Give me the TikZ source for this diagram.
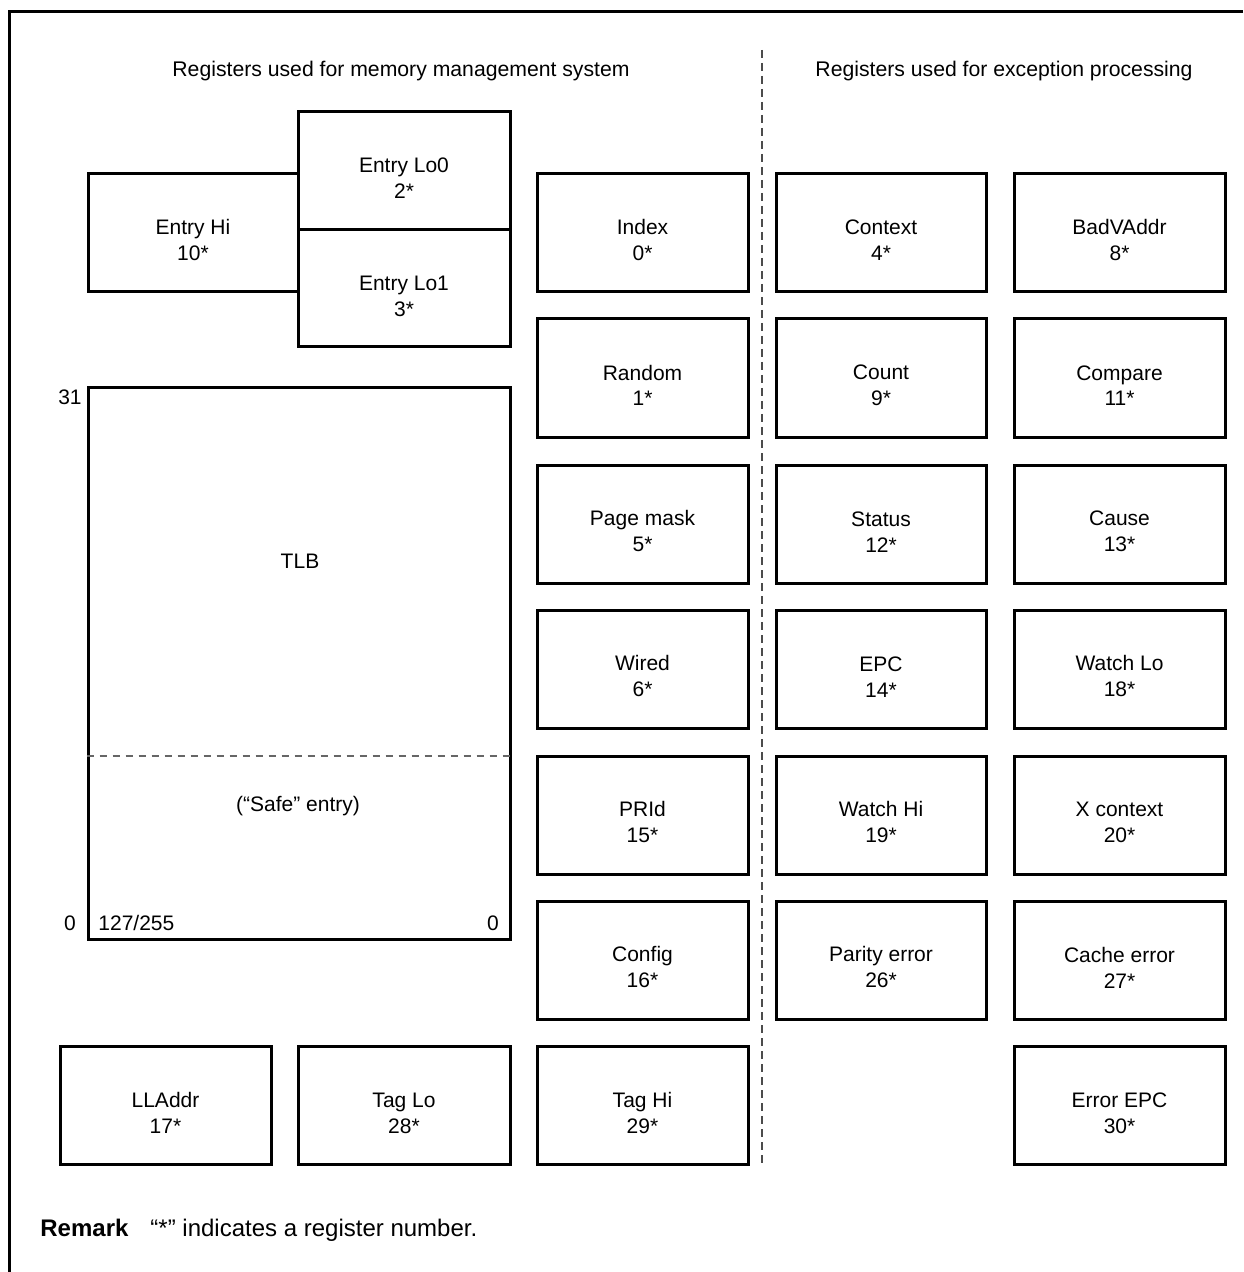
\documentclass[tikz,border=0pt]{standalone}
\usepackage{fontspec}
\setmainfont{Liberation Sans}
\newcommand\regstrut{\rule{0pt}{15pt}}
\begin{document}
\begin{tikzpicture}[x=0.5pt,y=-0.5pt,
  reg/.style={draw, line width=1.5pt, minimum width=105.5pt, minimum height=59pt, inner sep=0pt, align=center, font=\fontsize{10.5}{13}\selectfont},
  txt/.style={inner sep=0pt, font=\fontsize{10.5}{13}\selectfont},
  thindash/.style={draw=black!60, line width=0.6pt, dash pattern=on 3.5pt off 3pt}]
\useasboundingbox (0,0) rectangle (1243,1272);
% frame
\draw[line width=1.5pt] (1243,12) -- (9,12) -- (9,1272);
% headers
\node[txt, font=\fontsize{10.6}{13}\selectfont] (hmem) at (401,71) {Registers used for memory management system};
\node[txt, font=\fontsize{10.6}{13}\selectfont] (hexc) at (1004,71) {Registers used for exception processing};
% divider
\coordinate (dtop) at (762,50);
\coordinate (dbot) at (762,1165);
\draw[black!70, line width=0.6pt, dash pattern=on 4pt off 2.5pt] (dtop) -- (dbot);
% entry registers
\node[reg, minimum width=105pt] (ehi) at (193,233) {\regstrut Entry Hi\\10*};
\node[reg, minimum width=106pt] (elo0) at (404,171) {\regstrut Entry Lo0\\2*};
\node[reg, minimum width=106pt, minimum height=58.5pt] (elo1) at (404,288.5) {\regstrut Entry Lo1\\3*};
% TLB
\node[draw, line width=1.5pt, minimum width=211pt, minimum height=275.5pt, inner sep=0pt] (tlb) at (299,663.5) {};
\draw[thindash] (tlb.west |- 0,756) -- (tlb.east |- 0,756);
\node[txt] (tlbl) at (300,561) {TLB};
\node[txt] (safe) at (298,806) {(“Safe” entry)};
\node[txt] (n31) at (70,397) {31};
\node[txt] (n0l) at (70,923) {0};
\node[txt, anchor=west] (n127) at (98,923) {127/255};
\node[txt] (n0r) at (493,923) {0};
% column 1
\node[reg] (index) at (642.5,233) {\regstrut Index\\0*};
\node[reg] (random) at (642.5,378) {\regstrut Random\\1*};
\node[reg] (pmask) at (642.5,524) {\regstrut Page mask\\5*};
\node[reg] (wired) at (642.5,669) {\regstrut Wired\\6*};
\node[reg] (prid) at (642.5,815) {\regstrut PRId\\15*};
\node[reg] (config) at (642.5,960) {\regstrut Config\\16*};
\node[reg] (taghi) at (642.5,1105.5) {\regstrut Tag Hi\\29*};
% bottom row left
\node[reg] (lladdr) at (165.5,1105.5) {\regstrut LLAddr\\17*};
\node[reg, minimum width=106pt] (taglo) at (404,1105.5) {\regstrut Tag Lo\\28*};
% column 2
\node[reg, minimum width=105pt] (context) at (881,233) {\regstrut Context\\4*};
\node[reg, minimum width=105pt] (count) at (881,378) {\regstrut Count\\9*};
\node[reg, minimum width=105pt] (status) at (881,524) {\regstrut Status\\12*};
\node[reg, minimum width=105pt] (epc) at (881,669) {\regstrut EPC\\14*};
\node[reg, minimum width=105pt] (watchhi) at (881,815) {\regstrut Watch Hi\\19*};
\node[reg, minimum width=105pt] (parity) at (881,960) {\regstrut Parity error\\26*};
% column 3
\node[reg] (badv) at (1119.5,233) {\regstrut BadVAddr\\8*};
\node[reg] (compare) at (1119.5,378) {\regstrut Compare\\11*};
\node[reg] (cause) at (1119.5,524) {\regstrut Cause\\13*};
\node[reg] (watchlo) at (1119.5,669) {\regstrut Watch Lo\\18*};
\node[reg] (xctx) at (1119.5,815) {\regstrut X context\\20*};
\node[reg] (cacheerr) at (1119.5,960) {\regstrut Cache error\\27*};
\node[reg] (errepc) at (1119.5,1105.5) {\regstrut Error EPC\\30*};
% remark
\node[inner sep=0pt, anchor=west, font=\fontsize{12}{14}\selectfont] (rem) at (40,1230) {\textbf{Remark}\hspace{11pt}“*” indicates a register number.};
\end{tikzpicture}
\end{document}
